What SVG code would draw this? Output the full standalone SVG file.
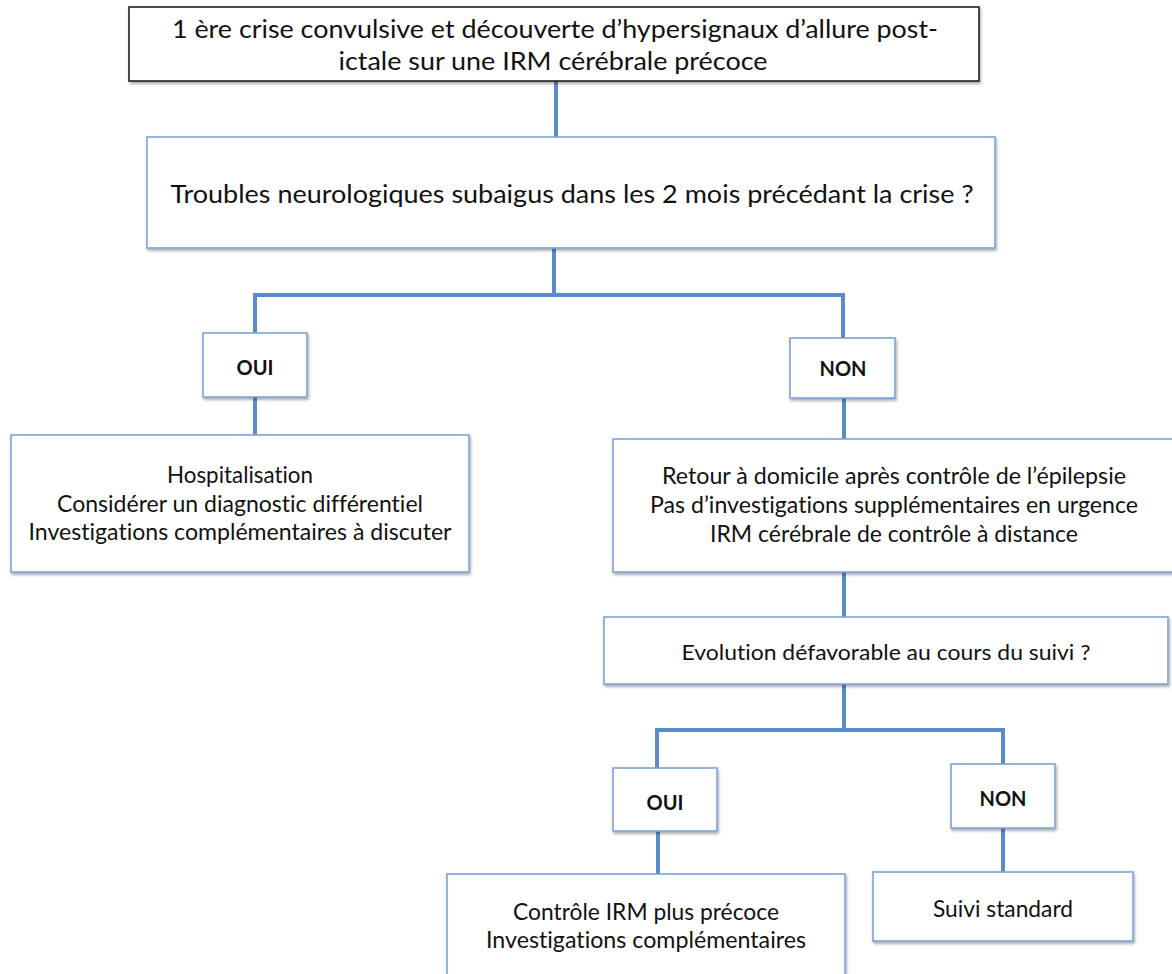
<svg xmlns="http://www.w3.org/2000/svg" width="1172" height="974" viewBox="0 0 1172 974">
<defs>
<filter id="sh" x="-5%" y="-5%" width="110%" height="120%">
<feDropShadow dx="1" dy="2" stdDeviation="1.5" flood-color="#000" flood-opacity="0.35"/>
</filter>
<style>
.box{fill:#fff;stroke:#7ba5d8;stroke-width:1.6;filter:url(#sh)}
.dark{fill:#fff;stroke:#222;stroke-width:1.6;filter:url(#sh)}
.t{font-family:Lato,"Open Sans","Liberation Sans",sans-serif;fill:#111;text-anchor:middle;font-variant-ligatures:none;font-feature-settings:"liga" 0,"clig" 0}
.big{font-size:25.5px}
.mid{font-size:22.5px}
.sm{font-size:21.5px}
.b{font-size:20px;font-weight:bold}
.c{fill:none;stroke:#5b8cc9;stroke-width:4;stroke-linecap:butt}
</style>
</defs>
<rect width="1172" height="974" fill="#fff"/>
<g id="connectors">
<path class="c" d="M556 81 V137"/>
<path class="c" d="M554 248 V295 M253 295 H845 M255 295 V333 M843 295 V338"/>
<path class="c" d="M255 397 V435"/>
<path class="c" d="M844 398 V439"/>
<path class="c" d="M844 572 V617"/>
<path class="c" d="M844 684 V730 M655 730 H1005 M657 730 V768 M1003 730 V764"/>
<path class="c" d="M658 831 V874"/>
<path class="c" d="M1003 828 V872"/>
</g>
<g id="n-start">
<rect class="dark" x="129" y="7" width="850" height="74"/>
<text class="t big" x="555" y="38" textLength="766" lengthAdjust="spacingAndGlyphs">1 ère crise convulsive et découverte d’hypersignaux d’allure post-</text>
<text class="t big" x="553" y="70" textLength="429" lengthAdjust="spacingAndGlyphs">ictale sur une IRM cérébrale précoce</text>
</g>
<g id="n-question">
<rect class="box" x="147" y="137" width="848" height="111"/>
<text class="t big" x="572" y="203" textLength="803" lengthAdjust="spacingAndGlyphs">Troubles neurologiques subaigus dans les 2 mois précédant la crise ?</text>
</g>
<g id="n-oui1">
<rect class="box" x="203" y="333" width="104" height="64"/>
<text class="t b" x="255" y="375">OUI</text>
</g>
<g id="n-non1">
<rect class="box" x="790" y="338" width="105" height="60"/>
<text class="t b" x="843" y="376">NON</text>
</g>
<g id="n-hosp">
<rect class="box" x="11" y="435" width="458" height="137"/>
<text class="t mid" x="240" y="483" textLength="146" lengthAdjust="spacingAndGlyphs">Hospitalisation</text>
<text class="t mid" x="240" y="512" textLength="366" lengthAdjust="spacingAndGlyphs">Considérer un diagnostic différentiel</text>
<text class="t mid" x="240" y="540" textLength="423" lengthAdjust="spacingAndGlyphs">Investigations complémentaires à discuter</text>
</g>
<g id="n-retour">
<rect class="box" x="613" y="439" width="562" height="133"/>
<text class="t mid" x="894" y="484" textLength="464" lengthAdjust="spacingAndGlyphs">Retour à domicile après contrôle de l’épilepsie</text>
<text class="t mid" x="894" y="513" textLength="488" lengthAdjust="spacingAndGlyphs">Pas d’investigations supplémentaires en urgence</text>
<text class="t mid" x="894" y="542" textLength="368" lengthAdjust="spacingAndGlyphs">IRM cérébrale de contrôle à distance</text>
</g>
<g id="n-evolution">
<rect class="box" x="604" y="617" width="564" height="67"/>
<text class="t sm" x="886" y="660" textLength="409" lengthAdjust="spacingAndGlyphs">Evolution défavorable au cours du suivi ?</text>
</g>
<g id="n-oui2">
<rect class="box" x="613" y="768" width="104" height="63"/>
<text class="t b" x="665" y="810">OUI</text>
</g>
<g id="n-non2">
<rect class="box" x="951" y="764" width="104" height="64"/>
<text class="t b" x="1003" y="806">NON</text>
</g>
<g id="n-controle">
<rect class="box" x="447" y="874" width="398" height="112"/>
<text class="t mid" x="646" y="920" textLength="266" lengthAdjust="spacingAndGlyphs">Contrôle IRM plus précoce</text>
<text class="t mid" x="646" y="948" textLength="320" lengthAdjust="spacingAndGlyphs">Investigations complémentaires</text>
</g>
<g id="n-suivi">
<rect class="box" x="873" y="872" width="260" height="69"/>
<text class="t mid" x="1003" y="917" textLength="140" lengthAdjust="spacingAndGlyphs">Suivi standard</text>
</g>
</svg>
